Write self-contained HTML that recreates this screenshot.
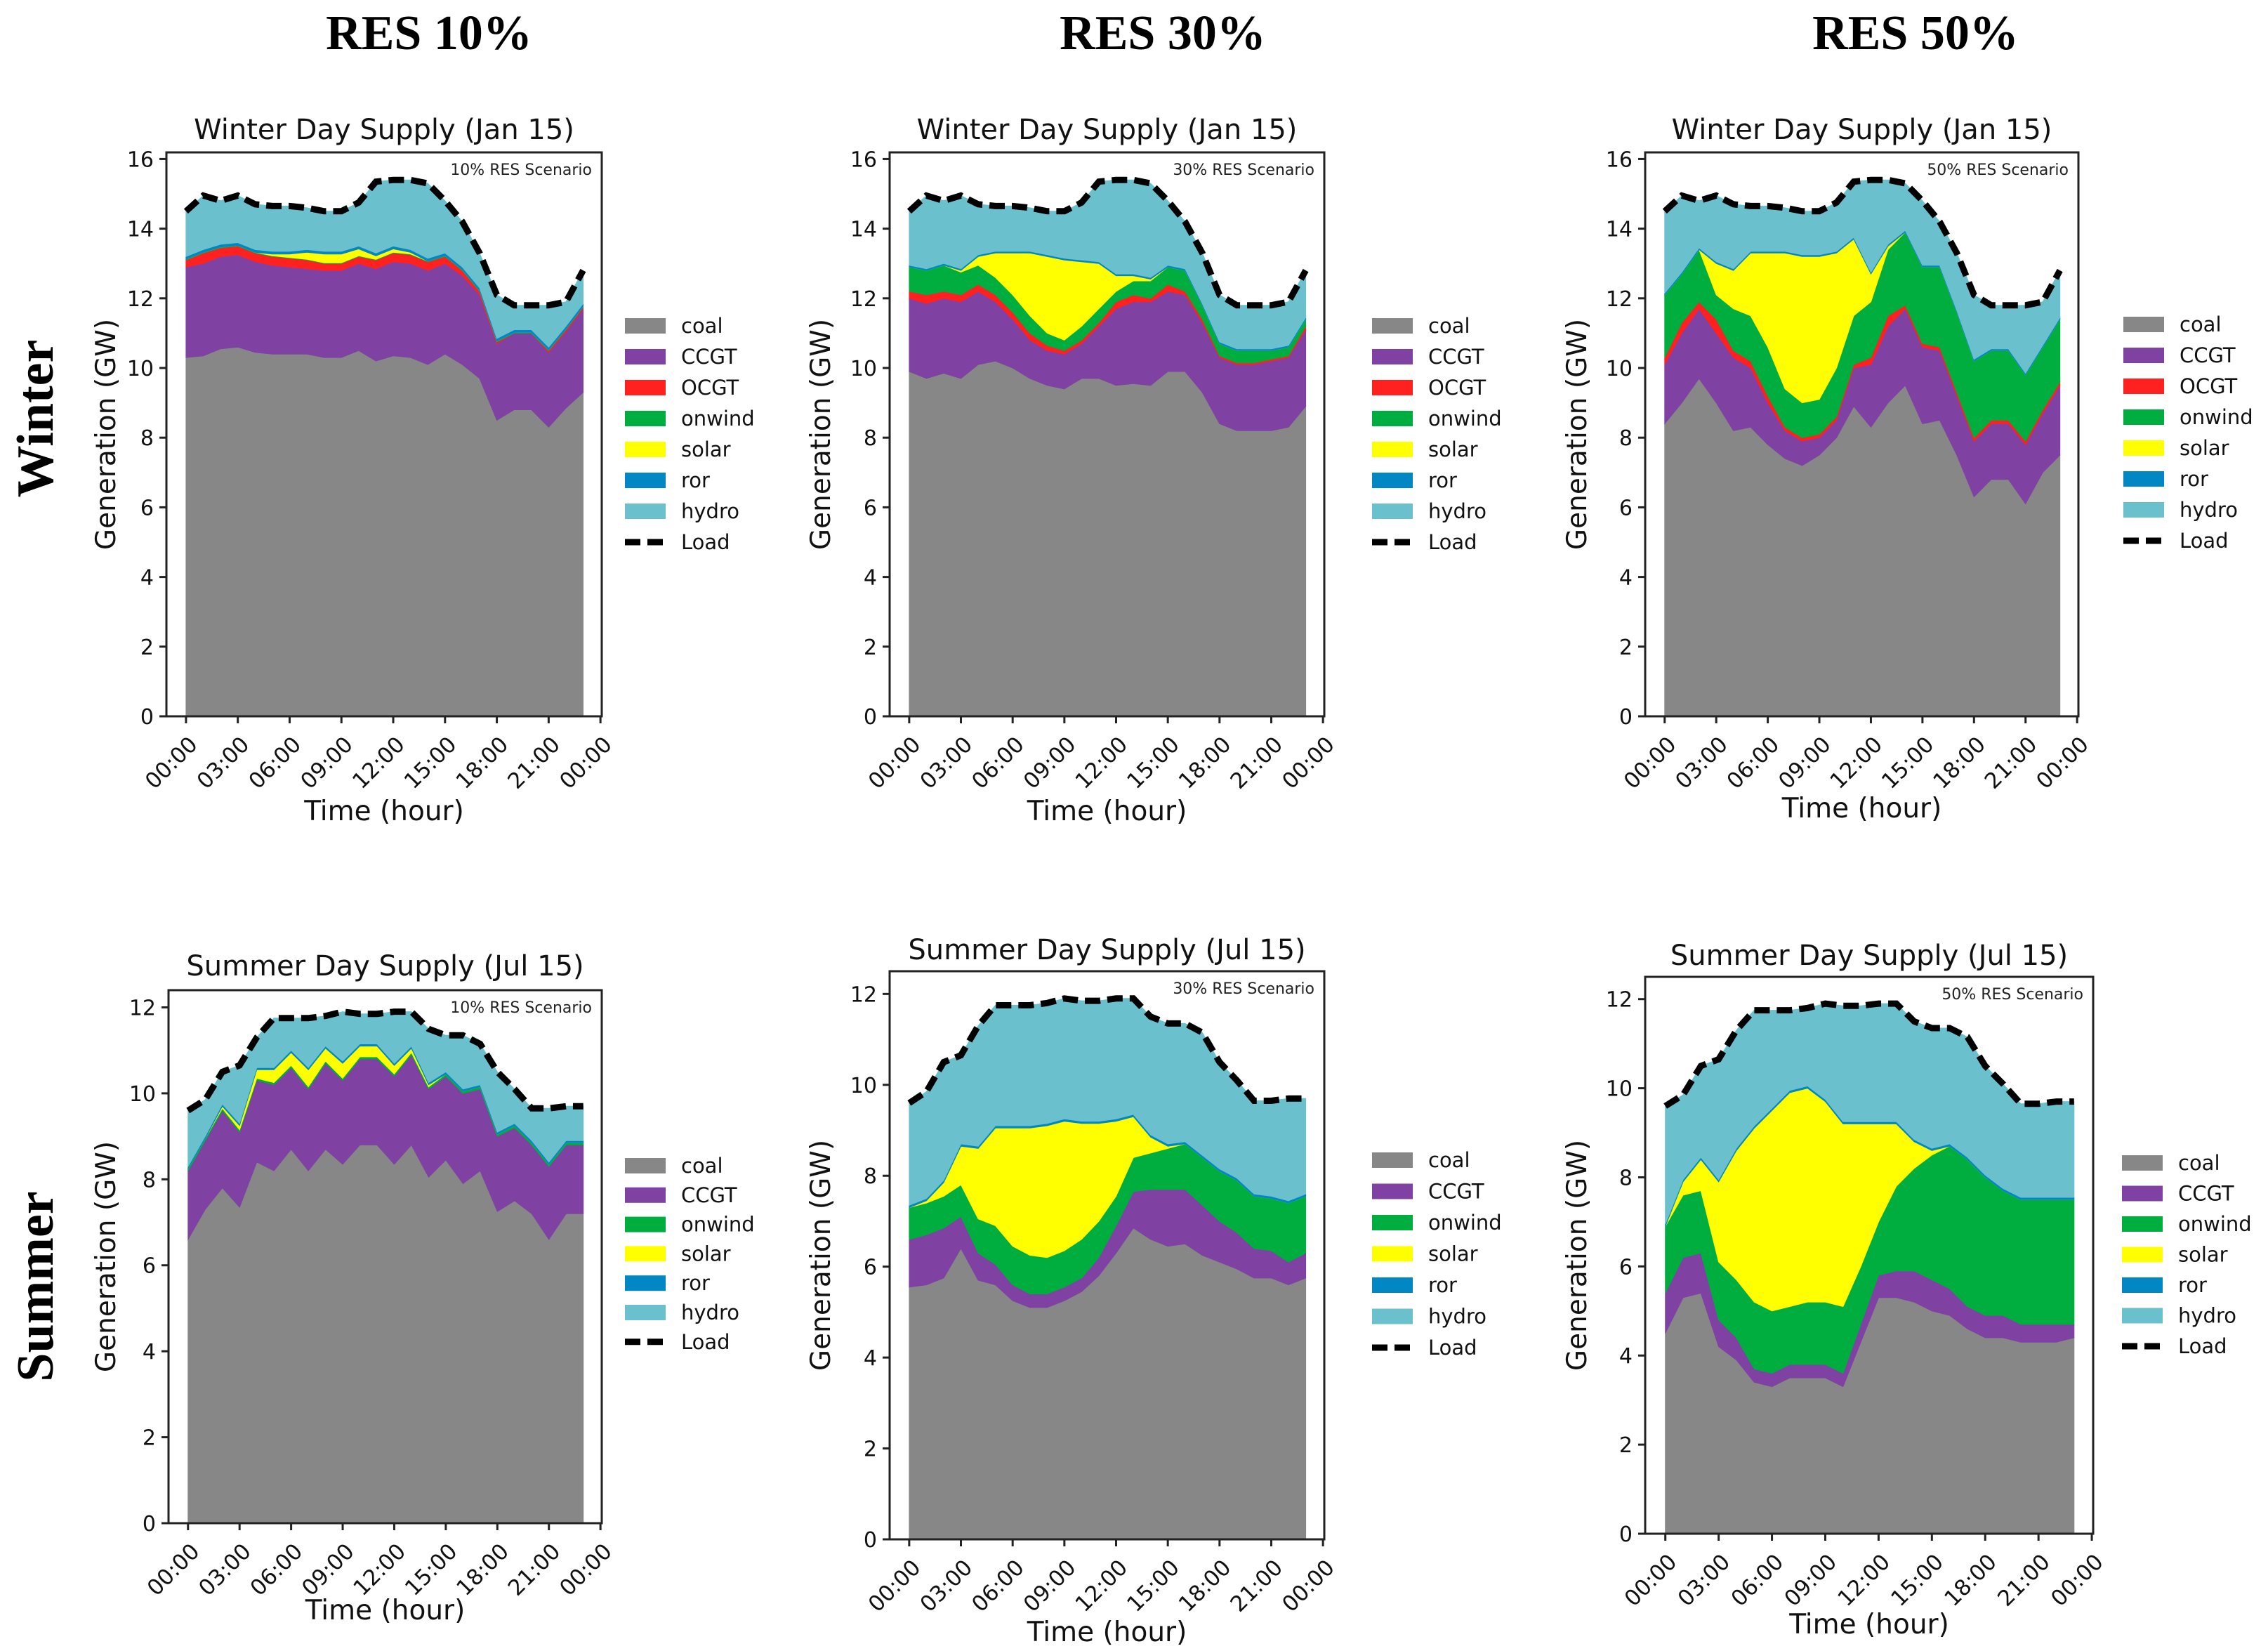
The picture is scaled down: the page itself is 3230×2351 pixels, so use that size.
<!DOCTYPE html>
<html><head><meta charset="utf-8"><style>
html,body{margin:0;padding:0;background:#fff}
svg{display:block}
text{font-family:"DejaVu Sans","Liberation Sans",sans-serif}
.hdr{font-family:"Liberation Serif",serif;font-weight:bold}
</style></head><body>
<svg id="fig" width="3230" height="2351" viewBox="0 0 3230 2351" xmlns="http://www.w3.org/2000/svg">
<text class="hdr" x="611" y="70" font-size="70" text-anchor="middle">RES 10%</text>
<text class="hdr" x="1656" y="70" font-size="70" text-anchor="middle">RES 30%</text>
<text class="hdr" x="2728" y="70" font-size="70" text-anchor="middle">RES 50%</text>
<text class="hdr" x="0" y="0" font-size="74" text-anchor="middle" transform="translate(75,596) rotate(-90)">Winter</text>
<text class="hdr" x="0" y="0" font-size="74" text-anchor="middle" transform="translate(75,1832) rotate(-90)">Summer</text>
</svg>
<script>
// ---- data ----
const hours = [0,1,2,3,4,5,6,7,8,9,10,11,12,13,14,15,16,17,18,19,20,21,22,23];
const xTickLabels = ["00:00","03:00","06:00","09:00","12:00","15:00","18:00","21:00","00:00"];
const legendWinter = ["coal","CCGT","OCGT","onwind","solar","ror","hydro"];
const legendSummer = ["coal","CCGT","onwind","solar","ror","hydro"];

const winterLoad = [14.5,14.95,14.8,14.95,14.7,14.65,14.65,14.6,14.5,14.5,14.75,15.35,15.4,15.4,15.3,14.8,14.2,13.3,12.1,11.8,11.8,11.8,11.9,12.8];
const summerLoad = [9.6,9.85,10.5,10.65,11.3,11.75,11.75,11.75,11.8,11.9,11.85,11.85,11.9,11.9,11.5,11.35,11.35,11.15,10.5,10.1,9.65,9.65,9.7,9.7];

// Winter 10%
const w10Coal = [10.3,10.35,10.55,10.6,10.45,10.4,10.4,10.4,10.3,10.3,10.5,10.2,10.35,10.3,10.1,10.4,10.1,9.7,8.5,8.8,8.8,8.3,8.85,9.3];
const w10CCGT = [2.6,2.65,2.65,2.65,2.6,2.55,2.5,2.45,2.5,2.5,2.5,2.65,2.7,2.7,2.7,2.6,2.55,2.4,2.2,2.2,2.2,2.15,2.2,2.4];
const w10OCGT = [0.2,0.3,0.25,0.25,0.25,0.25,0.25,0.25,0.2,0.2,0.2,0.25,0.25,0.25,0.25,0.2,0.15,0.1,0.05,0,0,0.05,0.05,0.05];
const w10Onwind = [0.02,0.02,0.02,0.02,0.02,0.02,0.02,0.02,0.02,0.02,0.02,0.02,0.02,0.02,0.02,0.02,0.02,0.02,0.02,0.02,0.02,0.02,0.02,0.02];
const w10Solar = [0,0,0,0,0,0.05,0.1,0.2,0.25,0.25,0.2,0.1,0.1,0.05,0,0,0,0,0,0,0,0,0,0];
const w10Ror = [0.08,0.08,0.08,0.08,0.08,0.08,0.08,0.08,0.08,0.08,0.08,0.08,0.08,0.08,0.08,0.08,0.08,0.08,0.08,0.08,0.08,0.08,0.08,0.08];
const w10Hydro = [1.3,1.55,1.25,1.35,1.3,1.3,1.3,1.2,1.15,1.15,1.25,2.05,1.9,2.0,2.15,1.5,1.3,1.0,1.25,0.7,0.7,1.2,0.7,0.95];

// Winter 30%
const w30Coal = [9.9,9.7,9.85,9.7,10.1,10.2,10.0,9.7,9.5,9.4,9.7,9.7,9.5,9.55,9.5,9.9,9.9,9.3,8.4,8.2,8.2,8.2,8.3,8.9];
const w30CCGT = [2.1,2.15,2.15,2.2,2.1,1.7,1.4,1.1,1.0,1.0,1.0,1.5,2.2,2.35,2.4,2.3,2.2,2.0,1.9,1.9,1.9,2.0,2.0,2.2];
const w30OCGT = [0.2,0.25,0.2,0.2,0.2,0.2,0.2,0.2,0.15,0.1,0.1,0.1,0.2,0.2,0.1,0.2,0.1,0.1,0.05,0.05,0.05,0.05,0.05,0.1];
const w30Onwind = [0.7,0.7,0.75,0.65,0.55,0.5,0.5,0.5,0.35,0.3,0.4,0.4,0.3,0.4,0.5,0.5,0.6,0.4,0.35,0.35,0.35,0.25,0.25,0.2];
const w30Solar = [0,0,0,0.05,0.25,0.7,1.2,1.8,2.2,2.3,1.85,1.3,0.45,0.15,0.05,0,0,0,0,0,0,0,0,0];
const w30Ror = [0.05,0.05,0.05,0.05,0.05,0.05,0.05,0.05,0.05,0.05,0.05,0.05,0.05,0.05,0.05,0.05,0.05,0.05,0.05,0.05,0.05,0.05,0.05,0.05];
const w30Hydro = [1.55,2.1,1.8,2.1,1.45,1.3,1.3,1.25,1.25,1.35,1.65,2.3,2.7,2.7,2.7,1.85,1.35,1.45,1.35,1.25,1.25,1.25,1.25,1.35];

// Winter 50%
const w50Coal = [8.4,9.0,9.7,9.0,8.2,8.3,7.8,7.4,7.2,7.5,8.0,8.9,8.3,9.0,9.5,8.4,8.5,7.5,6.3,6.8,6.8,6.1,7.0,7.5];
const w50CCGT = [1.7,2.0,2.0,2.0,2.1,1.7,1.2,0.8,0.7,0.5,0.5,1.1,1.8,2.2,2.2,2.2,2.0,1.7,1.6,1.6,1.6,1.7,1.7,2.0];
const w50OCGT = [0.2,0.3,0.2,0.4,0.2,0.2,0.2,0.1,0.1,0.1,0.1,0.1,0.2,0.3,0.1,0.1,0.1,0.1,0.1,0.1,0.1,0.1,0.1,0.1];
const w50Onwind = [1.8,1.4,1.5,0.7,1.2,1.3,1.4,1.1,1.0,1.0,1.4,1.4,1.6,1.9,2.1,2.2,2.3,2.3,2.2,2.0,2.0,1.9,1.8,1.8];
const w50Solar = [0,0,0,0.9,1.1,1.8,2.7,3.9,4.2,4.1,3.3,2.2,0.8,0.1,0,0,0,0,0,0,0,0,0,0];
const w50Ror = [0.05,0.05,0.05,0.05,0.05,0.05,0.05,0.05,0.05,0.05,0.05,0.05,0.05,0.05,0.05,0.05,0.05,0.05,0.05,0.05,0.05,0.05,0.05,0.05];
const w50Hydro = [2.35,2.2,1.35,1.9,1.85,1.3,1.3,1.25,1.25,1.25,1.4,1.6,2.65,1.85,1.35,1.85,1.25,1.65,1.85,1.25,1.25,1.95,1.25,1.35];

// Summer 10%
const s10Coal = [6.6,7.3,7.8,7.35,8.4,8.2,8.7,8.2,8.7,8.35,8.8,8.8,8.35,8.8,8.05,8.45,7.9,8.2,7.25,7.5,7.2,6.6,7.2,7.2];
const s10CCGT = [1.6,1.6,1.8,1.75,1.9,2.0,1.9,1.9,2.0,1.95,2.0,2.0,2.05,2.1,2.05,1.95,2.1,1.9,1.75,1.7,1.6,1.7,1.6,1.6];
const s10Onwind = [0.05,0.05,0.05,0.05,0.05,0.05,0.05,0.05,0.05,0.05,0.05,0.05,0.05,0.05,0.05,0.05,0.05,0.05,0.05,0.05,0.05,0.05,0.05,0.05];
const s10Solar = [0,0,0.05,0.1,0.2,0.3,0.3,0.4,0.3,0.35,0.25,0.25,0.2,0.1,0.05,0,0,0,0,0,0,0,0,0];
const s10Ror = [0.05,0.05,0.05,0.05,0.05,0.05,0.05,0.05,0.05,0.05,0.05,0.05,0.05,0.05,0.05,0.05,0.05,0.05,0.05,0.05,0.05,0.05,0.05,0.05];
const s10Hydro = [1.3,0.85,0.75,1.35,0.7,1.15,0.75,1.15,0.7,1.15,0.7,0.7,1.2,0.8,1.25,0.85,1.25,0.95,1.4,0.8,0.75,1.25,0.8,0.8];

// Summer 30%
const s30Coal = [5.55,5.6,5.75,6.4,5.7,5.6,5.25,5.1,5.1,5.25,5.45,5.8,6.3,6.85,6.6,6.45,6.5,6.25,6.1,5.95,5.75,5.75,5.6,5.75];
const s30CCGT = [1.05,1.1,1.1,0.7,0.6,0.45,0.35,0.3,0.3,0.3,0.3,0.4,0.6,0.8,1.1,1.25,1.2,1.1,0.9,0.8,0.65,0.6,0.5,0.55];
const s30Onwind = [0.7,0.7,0.7,0.7,0.75,0.85,0.85,0.85,0.8,0.8,0.85,0.8,0.65,0.75,0.8,0.9,1.0,1.05,1.1,1.15,1.15,1.15,1.3,1.25];
const s30Solar = [0,0.05,0.3,0.85,1.55,2.15,2.6,2.8,2.9,2.85,2.55,2.15,1.65,0.9,0.35,0.05,0,0,0,0,0,0,0,0];
const s30Ror = [0.05,0.05,0.05,0.05,0.05,0.05,0.05,0.05,0.05,0.05,0.05,0.05,0.05,0.05,0.05,0.05,0.05,0.05,0.05,0.05,0.05,0.05,0.05,0.05];
const s30Hydro = [2.25,2.35,2.6,1.95,2.65,2.65,2.65,2.65,2.65,2.65,2.65,2.65,2.65,2.55,2.6,2.65,2.6,2.7,2.35,2.15,2.05,2.1,2.25,2.1];

// Summer 50%
const s50Coal = [4.5,5.3,5.4,4.2,3.9,3.4,3.3,3.5,3.5,3.5,3.3,4.3,5.3,5.3,5.2,5.0,4.9,4.6,4.4,4.4,4.3,4.3,4.3,4.4];
const s50CCGT = [0.9,0.9,0.9,0.6,0.5,0.3,0.3,0.3,0.3,0.3,0.3,0.4,0.5,0.6,0.7,0.7,0.6,0.5,0.5,0.5,0.4,0.4,0.4,0.3];
const s50Onwind = [1.5,1.4,1.4,1.3,1.3,1.5,1.4,1.3,1.4,1.4,1.5,1.3,1.2,1.9,2.3,2.8,3.2,3.3,3.1,2.8,2.8,2.8,2.8,2.8];
const s50Solar = [0,0.3,0.7,1.8,2.9,3.9,4.5,4.8,4.8,4.5,4.1,3.2,2.2,1.4,0.6,0.1,0,0,0,0,0,0,0,0];
const s50Ror = [0.05,0.05,0.05,0.05,0.05,0.05,0.05,0.05,0.05,0.05,0.05,0.05,0.05,0.05,0.05,0.05,0.05,0.05,0.05,0.05,0.05,0.05,0.05,0.05];
const s50Hydro = [2.65,1.9,2.05,2.7,2.65,2.6,2.2,1.8,1.75,2.15,2.6,2.6,2.65,2.65,2.65,2.7,2.6,2.7,2.45,2.35,2.1,2.1,2.15,2.15];

// ---- styles / layout ----
const COLORS = {coal:"#878787",CCGT:"#7f42a3",OCGT:"#ff2020",onwind:"#00ad3f",solar:"#ffff00",ror:"#0087c4",hydro:"#6bc0ce"};
const panels = [
 {id:"w10",title:"Winter Day Supply (Jan 15)",scen:"10% RES Scenario",L:237,R:857,T:217,B:1020,ymax:16.19,yStep:2,titleY:198,xlabY:1168,ylabX:150,legX:890,legY:464,legDy:44,names:legendWinter,load:winterLoad,
  series:[w10Coal,w10CCGT,w10OCGT,w10Onwind,w10Solar,w10Ror,w10Hydro]},
 {id:"w30",title:"Winter Day Supply (Jan 15)",scen:"30% RES Scenario",L:1267,R:1886,T:217,B:1020,ymax:16.19,yStep:2,titleY:198,xlabY:1168,ylabX:1168,legX:1954,legY:464,legDy:44,names:legendWinter,load:winterLoad,
  series:[w30Coal,w30CCGT,w30OCGT,w30Onwind,w30Solar,w30Ror,w30Hydro]},
 {id:"w50",title:"Winter Day Supply (Jan 15)",scen:"50% RES Scenario",L:2343,R:2960,T:217,B:1020,ymax:16.19,yStep:2,titleY:198,xlabY:1164,ylabX:2245,legX:3024,legY:462,legDy:44,names:legendWinter,load:winterLoad,
  series:[w50Coal,w50CCGT,w50OCGT,w50Onwind,w50Solar,w50Ror,w50Hydro]},
 {id:"s10",title:"Summer Day Supply (Jul 15)",scen:"10% RES Scenario",L:240,R:857,T:1410,B:2169,ymax:12.4,yStep:2,titleY:1389,xlabY:2306,ylabX:150,legX:890,legY:1660,legDy:41.8,names:legendSummer,load:summerLoad,
  series:[s10Coal,s10CCGT,s10Onwind,s10Solar,s10Ror,s10Hydro]},
 {id:"s30",title:"Summer Day Supply (Jul 15)",scen:"30% RES Scenario",L:1267,R:1886,T:1383,B:2192,ymax:12.5,yStep:2,titleY:1366,xlabY:2337,ylabX:1168,legX:1954,legY:1652,legDy:44.5,names:legendSummer,load:summerLoad,
  series:[s30Coal,s30CCGT,s30Onwind,s30Solar,s30Ror,s30Hydro]},
 {id:"s50",title:"Summer Day Supply (Jul 15)",scen:"50% RES Scenario",L:2343,R:2981,T:1391,B:2184,ymax:12.5,yStep:2,titleY:1374,xlabY:2326,ylabX:2245,legX:3022,legY:1656,legDy:43.5,names:legendSummer,load:summerLoad,
  series:[s50Coal,s50CCGT,s50Onwind,s50Solar,s50Ror,s50Hydro]}
];

const NS = "http://www.w3.org/2000/svg";
const fig = document.getElementById('fig');
function mk(tag, attrs, parent){
  const e = document.createElementNS(NS, tag);
  for (const k in attrs) e.setAttribute(k, attrs[k]);
  (parent||fig).appendChild(e);
  return e;
}

panels.forEach(p => {
  const g = mk('g', {});
  
  
  const W = p.R - p.L;
  const x0 = p.L + W*0.045, x24 = p.R - W*0.003;
  const xs = h => x0 + (x24 - x0) * h / 24;
  const ys = v => p.B - (p.B - p.T) * v / p.ymax;

  let base = hours.map(() => 0);
  p.series.forEach((vals, si) => {
    const top = base.map((b, i) => b + vals[i]);
    let d = hours.map((h, i) => (i ? 'L' : 'M') + xs(h).toFixed(1) + ',' + ys(top[i]).toFixed(1)).join(' ');
    for (let i = hours.length - 1; i >= 0; i--) d += ' L' + xs(hours[i]).toFixed(1) + ',' + ys(base[i]).toFixed(1);
    d += ' Z';
    const name = p.names[si];
    const a = mk('path', {d: d, fill: COLORS[name], stroke: COLORS[name], 'stroke-width': 1}, g);
    
    
    base = top;
  });

  const ld = hours.map((h, i) => (i ? 'L' : 'M') + xs(h).toFixed(1) + ',' + ys(p.load[i]).toFixed(1)).join(' ');
  const ll = mk('path', {d: ld, fill: 'none', stroke: '#000', 'stroke-width': 9, 'stroke-dasharray': '22 10'}, g);
  
  

  const fr = mk('rect', {x: p.L, y: p.T, width: W, height: p.B - p.T, fill: 'none', stroke: '#222', 'stroke-width': 3}, g);
  
  

  for (let v = 0; v <= p.ymax + 1e-6; v += p.yStep) {
    const y = ys(v);
    mk('line', {x1: p.L - 10, x2: p.L, y1: y, y2: y, stroke: '#222', 'stroke-width': 3}, g);
    const t = mk('text', {x: p.L - 18, y: y + 11, 'font-size': 30, 'text-anchor': 'end', fill: '#111'}, g);
    t.textContent = String(v);
    
    
  }
  xTickLabels.forEach((lab, i) => {
    const x = xs(i * 3);
    mk('line', {x1: x, x2: x, y1: p.B, y2: p.B + 10, stroke: '#222', 'stroke-width': 3}, g);
    const t = mk('text', {x: 0, y: 0, 'font-size': 31, 'text-anchor': 'end', fill: '#111',
      transform: 'translate(' + (x + 18) + ',' + (p.B + 42) + ') rotate(-45)'}, g);
    t.textContent = lab;
    
    
  });

  const tt = mk('text', {x: (p.L + p.R) / 2, y: p.titleY, 'font-size': 40, 'text-anchor': 'middle', fill: '#111'}, g);
  tt.textContent = p.title;
  
  
  const sc = mk('text', {x: p.R - 14, y: p.T + 32, 'font-size': 22, 'text-anchor': 'end', fill: '#222'}, g);
  sc.textContent = p.scen;
  
  
  const xl = mk('text', {x: (p.L + p.R) / 2, y: p.xlabY, 'font-size': 39, 'text-anchor': 'middle', fill: '#111'}, g);
  xl.textContent = 'Time (hour)';
  
  
  const yl = mk('text', {x: 0, y: 0, 'font-size': 39, 'text-anchor': 'middle', fill: '#111',
    transform: 'translate(' + (p.ylabX + 14) + ',' + ((p.T + p.B) / 2) + ') rotate(-90)'}, g);
  yl.textContent = 'Generation (GW)';
  
  

  const lg = mk('g', {}, g);
  
  
  const entries = p.names.concat(['Load']);
  entries.forEach((nm, i) => {
    const y = p.legY + i * p.legDy;
    if (nm === 'Load') {
      const ln = mk('line', {x1: p.legX, x2: p.legX + 58, y1: y, y2: y, stroke: '#000', 'stroke-width': 9, 'stroke-dasharray': '22 10'}, lg);
      
      
    } else {
      const r = mk('rect', {x: p.legX, y: y - 11, width: 58, height: 22, fill: COLORS[nm]}, lg);
      
      
    }
    const t = mk('text', {x: p.legX + 80, y: y + 10, 'font-size': 29, fill: '#111'}, lg);
    t.textContent = nm;
    
    
  });
});
</script>
</body></html>
